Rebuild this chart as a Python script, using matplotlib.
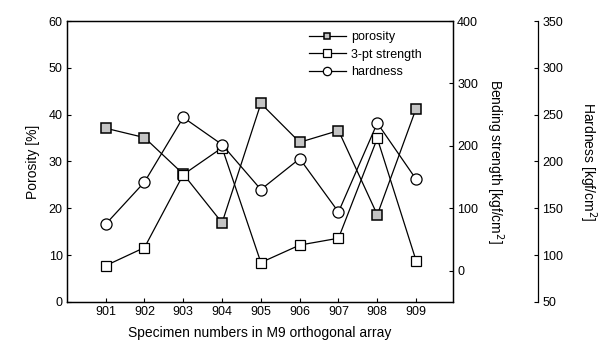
import numpy as np
import matplotlib.pyplot as plt

plt.rcParams['font.family'] = ['Liberation Sans', 'DejaVu Sans']

# data
specimens = ['901', '902', '903', '904', '905', '906', '907', '908', '909']
porosity = [37.1, 35.1, 27.3, 16.9, 42.4, 34.1, 36.6, 18.6, 41.3]   # %
strength = [8, 37, 154, 197, 13, 41, 52, 212, 16]                    # kgf/cm2
hardness = [133, 178, 247, 218, 170, 203, 146, 241, 181]             # kgf/cm2

x = np.arange(len(specimens))

fig = plt.figure(figsize=(6.08, 3.51), dpi=100)
ax1 = fig.add_axes([0.110, 0.140, 0.635, 0.800])
ax2 = ax1.twinx()
ax3 = ax1.twinx()
ax3.spines['right'].set_position(('axes', 1.221))
for s in ['top', 'left', 'bottom']:
    ax3.spines[s].set_visible(False)

lw = 0.9
p1, = ax1.plot(x, porosity, color='black', lw=lw, marker='s', ms=6.5,
               mfc='#c4c4c4', mec='black', mew=1.1, label='porosity')
p2, = ax2.plot(x, strength, color='black', lw=lw, marker='s', ms=7,
               mfc='white', mec='black', mew=0.9, label='3-pt strength')
p3, = ax3.plot(x, hardness, color='black', lw=lw, marker='o', ms=8,
               mfc='white', mec='black', mew=0.9, label='hardness')

ax1.set_xlim(-1.0, 8.95)
ax1.set_xticks(x)
ax1.set_xticklabels(specimens)
ax1.set_ylim(0, 60)
ax1.set_yticks(range(0, 61, 10))
ax2.set_ylim(-50, 400)
ax2.set_yticks(range(0, 401, 100))
ax3.set_ylim(50, 350)
ax3.set_yticks(range(50, 351, 50))

for ax in (ax1, ax2, ax3):
    ax.tick_params(direction='in', length=3, width=0.8, labelsize=9, pad=3)
    for sp in ax.spines.values():
        sp.set_linewidth(0.9)

ax1.set_xlabel('Specimen numbers in M9 orthogonal array', fontsize=10, labelpad=6)
ax1.set_ylabel('Porosity [%]', fontsize=10, labelpad=6)
ax2.set_ylabel('Bending strength [kgf/cm$^2$]', fontsize=10, rotation=270, labelpad=20)
ax3.set_ylabel('Hardness [kgf/cm$^2$]', fontsize=10, rotation=270, labelpad=25)

ax3.legend(handles=[p1, p2, p3], loc='upper left', bbox_to_anchor=(0.6, 1.0),
           frameon=False, fontsize=9, handlelength=3.0, handletextpad=0.4,
           labelspacing=0.45, borderpad=0.3, markerscale=0.75)

fig.savefig('out.png', dpi=100)
